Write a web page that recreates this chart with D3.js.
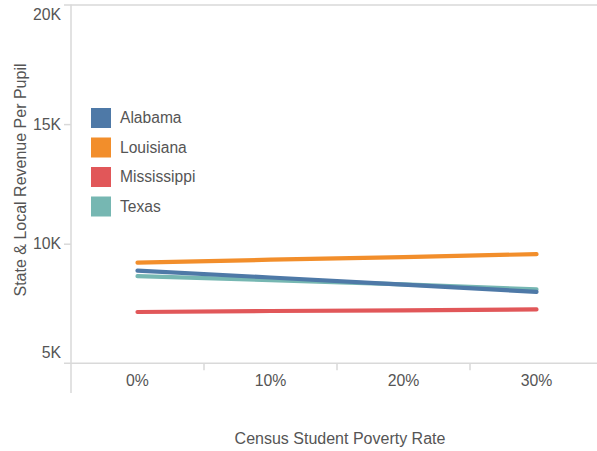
<!DOCTYPE html>
<html>
<head>
<meta charset="utf-8">
<script src="https://cdn.jsdelivr.net/npm/d3@7"></script>
<style>
  html, body { margin: 0; padding: 0; background: #fff; }
  svg { display: block; font-family: "Liberation Sans", Arial, sans-serif; }
</style>
</head>
<body>
<svg id="chart" width="597" height="451"></svg>
<script>
// ---- data ----
const categories = ["0%", "10%", "20%", "30%"];
const states = ["Alabama", "Louisiana", "Mississippi", "Texas"];
const colors = ["#4e79a7", "#f28e2b", "#e15759", "#76b7b2"];
const alabama = [8875, 8587, 8286, 7985];
const louisiana = [9206, 9331, 9440, 9565];
const mississippi = [7145, 7186, 7216, 7253];
const texas = [8641, 8478, 8298, 8094];
const yTicks = [5000, 10000, 15000, 20000];
const yTickLabels = ["5K", "10K", "15K", "20K"];
const xTitle = "Census Student Poverty Rate";
const yTitle = "State & Local Revenue Per Pupil";

const seriesValues = [alabama, louisiana, mississippi, texas];
const series = states.map((s, i) => ({ name: s, color: colors[i], values: seriesValues[i] }));

// ---- layout ----
const svg = d3.select("#chart");
const plotLeft = 71, plotTop = 4.5, plotBottom = 363.3, bandW = 133;
const x = d3.scaleBand().domain(categories).range([plotLeft, plotLeft + bandW * categories.length]).padding(0);
const y = d3.scaleLinear().domain([5000, 20000]).range([plotBottom, plotTop]);
const textColor = "#555";
const gridColor = "#d9d9d9";

// top border line (20K)
svg.append("line").attr("x1", 64).attr("x2", 597)
  .attr("y1", y(20000) + 0.5).attr("y2", y(20000) + 0.5)
  .attr("stroke", gridColor).attr("stroke-width", 1.5);

// y axis
const yAxis = d3.axisLeft(y).tickValues(yTicks).tickSize(7).tickPadding(3)
  .tickFormat((d, i) => yTickLabels[i]);
const gy = svg.append("g").attr("transform", `translate(${plotLeft},0)`).call(yAxis);
gy.select(".domain").remove();
gy.selectAll(".tick line").attr("stroke", gridColor).attr("stroke-width", 1.5)
  .filter(d => d === 5000 || d === 20000).remove();
gy.selectAll(".tick text").attr("fill", textColor).style("font-size", "15.8px")
  .style("font-family", "'Liberation Sans', Arial, sans-serif")
  .attr("x", -10)
  .attr("dy", "0.32em")
  .attr("transform", d => d === 20000 ? "translate(0,10)" : d === 5000 ? "translate(0,-11)" : null);

// y axis vertical line (extends below)
svg.append("line").attr("x1", plotLeft).attr("x2", plotLeft)
  .attr("y1", plotTop).attr("y2", 393)
  .attr("stroke", gridColor).attr("stroke-width", 1.5);

// x axis baseline
svg.append("line").attr("x1", 64).attr("x2", 597)
  .attr("y1", plotBottom).attr("y2", plotBottom)
  .attr("stroke", gridColor).attr("stroke-width", 1.5);

// x axis labels and ticks at band boundaries
const xAxis = d3.axisBottom(x).tickSize(0).tickPadding(11);
const gx = svg.append("g").attr("transform", `translate(0,${plotBottom})`).call(xAxis);
gx.select(".domain").remove();
gx.selectAll(".tick text").attr("fill", textColor).style("font-size", "15.8px")
  .style("font-family", "'Liberation Sans', Arial, sans-serif");
svg.append("g").selectAll("line").data(categories.slice(1)).join("line")
  .attr("x1", d => x(d)).attr("x2", d => x(d))
  .attr("y1", plotBottom).attr("y2", plotBottom + 7)
  .attr("stroke", gridColor).attr("stroke-width", 1.5);

// titles
svg.append("text").attr("x", 340).attr("y", 444)
  .attr("text-anchor", "middle").attr("fill", textColor)
  .style("font-size", "16px").text(xTitle);
svg.append("text").attr("transform", "translate(26,180) rotate(-90)")
  .attr("text-anchor", "middle").attr("fill", textColor)
  .style("font-size", "16px").text(yTitle);

// lines
const line = d3.line().x((d, i) => x(categories[i]) + x.bandwidth() / 2).y(d => y(d));
const drawOrder = [3, 2, 1, 0];
svg.append("g").selectAll("path").data(drawOrder.map(i => series[i])).join("path")
  .attr("d", d => line(d.values))
  .attr("fill", "none")
  .attr("stroke", d => d.color)
  .attr("stroke-width", 4.2)
  .attr("stroke-linecap", "round")
  .attr("stroke-linejoin", "round");

// legend
const lg = svg.append("g").attr("transform", "translate(91,108)");
const rows = lg.selectAll("g").data(series).join("g")
  .attr("transform", (d, i) => `translate(0,${i * 29.5})`);
rows.append("rect").attr("width", 20).attr("height", 20).attr("fill", d => d.color);
rows.append("text").attr("x", 29).attr("y", 10).attr("dy", "0.35em")
  .attr("fill", textColor).style("font-size", "15.6px").text(d => d.name);
</script>
</body>
</html>
